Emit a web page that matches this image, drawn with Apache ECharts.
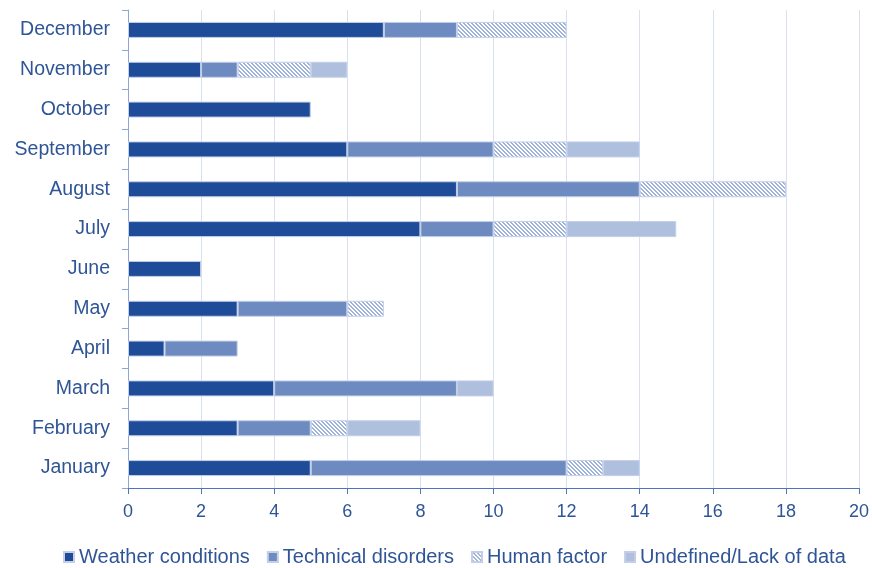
<!DOCTYPE html>
<html style="height: 100%">
<head>
  <meta charset="utf-8">
</head>
<body style="height: 100%; margin: 0; background: #fff">
  <div id="container" style="width: 872px; height: 568px"></div>
  <script src="https://cdn.jsdelivr.net/npm/echarts@6/dist/echarts.min.js"></script>
  <script>
    // months, bottom to top
    var months = ['January', 'February', 'March', 'April', 'May', 'June',
      'July', 'August', 'September', 'October', 'November', 'December'];
    var weather   = [5, 3, 4, 1, 3, 2, 8, 9, 6, 5, 2, 7];
    var technical = [7, 2, 5, 2, 3, 0, 2, 5, 4, 0, 1, 2];
    var human     = [1, 1, 0, 0, 1, 0, 2, 4, 2, 0, 2, 3];
    var undefinedData = [1, 2, 1, 0, 0, 0, 3, 0, 2, 0, 1, 0];
    var xTicks = [0, 2, 4, 6, 8, 10, 12, 14, 16, 18, 20];

    var textColor = '#2f5597';

    // diagonal hatch for "Human factor"
    function hatch() {
      var s = 4;
      var c = document.createElement('canvas');
      c.width = s; c.height = s;
      var ctx = c.getContext('2d');
      ctx.fillStyle = '#ffffff';
      ctx.fillRect(0, 0, s, s);
      ctx.fillStyle = '#9fb2d9';
      for (var i = 0; i < s; i++) {
        ctx.fillRect(i, i, 1, 1);
        ctx.fillRect((i + 1) % s, i, 1, 1);
      }
      return { image: c, repeat: 'repeat' };
    }

    var chart = echarts.init(document.getElementById('container'), null, { renderer: 'canvas' });

    function seg(name, data, color) {
      return {
        name: name,
        type: 'bar',
        stack: 'total',
        barWidth: 16,
        data: data.map(function (v) { return v === 0 ? '-' : v; }),
        itemStyle: { color: color, borderColor: '#c3cfe8', borderWidth: 1 }
      };
    }

    var option = {
      animation: false,
      textStyle: { fontFamily: 'Liberation Sans, Arial, sans-serif' },
      grid: { left: 128, right: 13, top: 10, bottom: 80 },
      legend: {
        top: 542,
        left: 58,
        itemWidth: 10,
        itemHeight: 10,
        itemGap: 17,
        icon: 'rect',
        textStyle: { color: textColor, fontSize: 20 },
        data: ['Weather conditions', 'Technical disorders', 'Human factor', 'Undefined/Lack of data']
      },
      xAxis: {
        type: 'value',
        min: 0,
        max: 20,
        interval: 2,
        axisLine: { show: true, lineStyle: { color: '#4f74bd', width: 1 } },
        axisTick: { show: true, length: 6, lineStyle: { color: '#4f74bd' } },
        axisLabel: {
          color: textColor, fontSize: 18, margin: 15,
          formatter: function (v) { return xTicks.indexOf(v) >= 0 ? String(v) : ''; }
        },
        splitLine: { show: true, lineStyle: { color: '#d9e0f0', width: 1 } }
      },
      yAxis: {
        type: 'category',
        data: months,
        axisLine: { show: true, lineStyle: { color: '#8ea6d6', width: 1 } },
        axisTick: { show: true, length: 6, lineStyle: { color: '#8ea6d6' } },
        axisLabel: { color: textColor, fontSize: 19.5, margin: 18 }
      },
      series: [
        seg('Weather conditions', weather, '#1f4c99'),
        seg('Technical disorders', technical, '#6d8bc0'),
        seg('Human factor', human, hatch()),
        seg('Undefined/Lack of data', undefinedData, '#afc0de')
      ]
    };

    chart.setOption(option);
  </script>
</body>
</html>
